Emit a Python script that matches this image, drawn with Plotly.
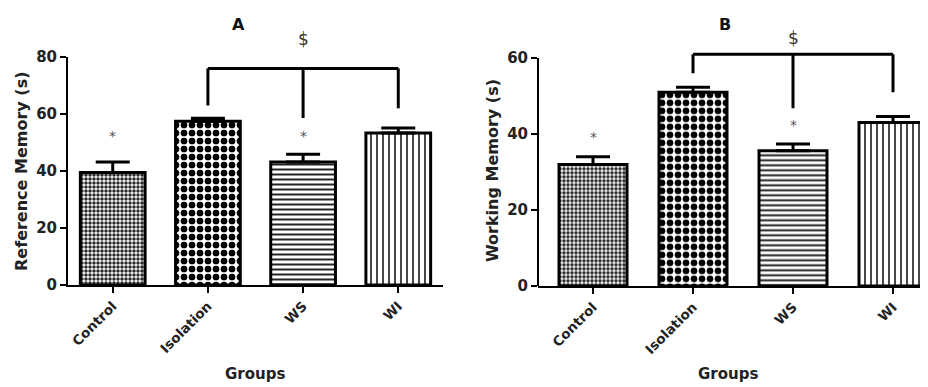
import plotly.graph_objects as go

# ---------------- data ----------------
groups = ["Control", "Isolation", "WS", "WI"]

ref_mean = [39.5, 57.5, 43.2, 53.3]
ref_sem = [3.7, 1.0, 2.7, 1.8]
ref_star = [52.3, None, 52.3, None]          # "*" marks (significance)
ref_bracket_top = 76
ref_bracket_legs = [63, 58.6, 62]           # Isolation, WS, WI

work_mean = [32.0, 51.0, 35.6, 43.0]
work_sem = [2.0, 1.3, 1.8, 1.6]
work_star = [39.2, None, 42.4, None]
work_bracket_top = 61
work_bracket_legs = [56, 46.8, 51]

yticks_ref = [0, 20, 40, 60, 80]
yticks_work = [0, 20, 40, 60]

# ---------------- styles ----------------
pat_shape = [".", ".", "-", "|"]
pat_size = [4, 8, 5, 6]
pat_solid = [0.6, 0.55, 0.4, 0.3]
pat_fg = ["#2a2a2a", "#000000", "#222222", "#333333"]

FONT = "DejaVu Sans"

# page body has an 8px margin; work in window pixel coordinates
W, H, OFF = 920, 379, 8


def px(x):
    return (x - OFF) / W


def py(y):
    return 1 - (y - OFF) / H


fig = go.Figure()


def add_panel(means, sems, xa, ya):
    fig.add_trace(go.Bar(
        x=list(range(len(groups))), y=means, xaxis=xa, yaxis=ya,
        width=0.68,
        marker=dict(color="white",
                    line=dict(color="black", width=3),
                    pattern=dict(shape=pat_shape, size=pat_size,
                                 solidity=pat_solid, fgcolor=pat_fg,
                                 fgopacity=1, bgcolor="white")),
        error_y=dict(type="data", symmetric=False, array=sems,
                     arrayminus=[0] * len(sems), color="black",
                     thickness=3, width=17),
        showlegend=False, hoverinfo="skip"))


add_panel(ref_mean, ref_sem, "x", "y")
add_panel(work_mean, work_sem, "x2", "y2")

shapes = []
annotations = []


def bracket(top, legs, xr, yr):
    xs = [1, 2, 3]
    shapes.append(dict(type="line", xref=xr, yref=yr, x0=xs[0], x1=xs[-1],
                       y0=top, y1=top, line=dict(color="black", width=3)))
    for xv, lv in zip(xs, legs):
        shapes.append(dict(type="line", xref=xr, yref=yr, x0=xv, x1=xv,
                           y0=top, y1=lv, line=dict(color="black", width=3)))


bracket(ref_bracket_top, ref_bracket_legs, "x", "y")
bracket(work_bracket_top, work_bracket_legs, "x2", "y2")

# y axis line of panel B (axis range extends above 60 to fit the bracket)
shapes.append(dict(type="line", xref="x2 domain", yref="y2", x0=0, x1=0,
                   y0=0, y1=60, line=dict(color="black", width=2)))

for stars, xr, yr in [(ref_star, "x", "y"), (work_star, "x2", "y2")]:
    for i, s in enumerate(stars):
        if s is not None:
            annotations.append(dict(x=i, y=s, xref=xr, yref=yr, text="*",
                                    showarrow=False, xanchor="center",
                                    yanchor="middle",
                                    font=dict(family=FONT, size=14, color="#555")))


def label(x, y, text, size, angle=0, color="#222", xref="paper"):
    annotations.append(dict(x=x, y=y, xref=xref, yref="paper", text=text,
                            textangle=angle, showarrow=False,
                            xanchor="center", yanchor="middle",
                            font=dict(family=FONT, size=size, color=color)))


label(2, py(39), "$", 17, color="#333", xref="x")
label(2, py(38), "$", 17, color="#333", xref="x2")
label(px(238), py(25), "<b>A</b>", 16, color="#111")
label(px(725), py(24), "<b>B</b>", 16, color="#111")
label(px(22), py(171), "<b>Reference Memory (s)</b>", 16, angle=-90)
label(px(492), py(170), "<b>Working Memory (s)</b>", 16, angle=-90)
label(px(255), py(374), "<b>Groups</b>", 15)
label(px(728), py(374), "<b>Groups</b>", 15)

xaxis_common = dict(
    tickmode="array", tickvals=list(range(len(groups))), ticktext=groups,
    tickangle=-45, ticks="outside", ticklen=6, tickwidth=2, tickcolor="black",
    showline=True, linecolor="black", linewidth=2, showgrid=False,
    zeroline=False, automargin=False,
    tickfont=dict(family=FONT, size=13.5, color="#222", weight="bold"),
)
yaxis_common = dict(
    ticks="outside", ticklen=6, tickwidth=2, tickcolor="black",
    linecolor="black", linewidth=2, showgrid=False, zeroline=False,
    automargin=False,
    tickfont=dict(family=FONT, size=15, color="#222", weight="bold"),
)

fig.update_layout(
    width=W, height=H,
    margin=dict(l=0, r=0, t=0, b=0),
    paper_bgcolor="white", plot_bgcolor="white",
    xaxis=dict(domain=[px(68), px(443)], range=[-0.47, 3.47], anchor="y",
               **xaxis_common),
    yaxis=dict(domain=[py(285), py(57)], range=[0, 80], anchor="x",
               tickvals=yticks_ref, showline=True, **yaxis_common),
    xaxis2=dict(domain=[px(538), 1.0], range=[-0.55, 3.35], anchor="y2",
                **xaxis_common),
    yaxis2=dict(domain=[py(286), py(42.8)], range=[0, 64], anchor="x2",
                tickvals=yticks_work, showline=False, **yaxis_common),
    shapes=shapes,
    annotations=annotations,
)

fig.write_html("out.html")
